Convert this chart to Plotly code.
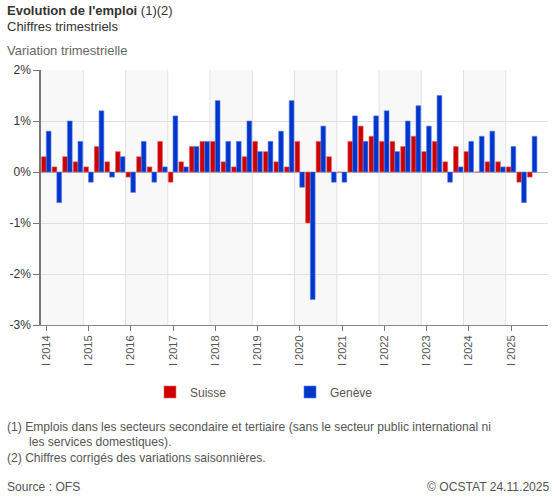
import plotly.graph_objects as go

# --- data (variation trimestrielle, en %) ---
years = list(range(2014, 2026))
quarters = ["I", "II", "III", "IV"]
categories = [f"{q} {y}" for y in years for q in quarters]

suisse = [0.3, 0.1, 0.3, 0.2,
          0.1, 0.5, 0.2, 0.4,
          -0.1, 0.3, 0.1, 0.6,
          -0.2, 0.2, 0.5, 0.6,
          0.6, 0.2, 0.1, 0.3,
          0.6, 0.4, 0.2, 0.1,
          0.6, -1.0, 0.6, 0.3,
          0.0, 0.6, 0.9, 0.7,
          0.6, 0.6, 0.5, 0.7,
          0.4, 0.6, 0.2, 0.5,
          0.4, 0.0, 0.2, 0.2,
          0.1, -0.2, -0.1, None]

geneve = [0.8, -0.6, 1.0, 0.6,
          -0.2, 1.2, -0.1, 0.3,
          -0.4, 0.6, -0.2, 0.1,
          1.1, 0.1, 0.5, 0.6,
          1.4, 0.6, 0.6, 1.0,
          0.4, 0.6, 0.8, 1.4,
          -0.3, -2.5, 0.9, -0.2,
          -0.2, 1.1, 0.6, 1.1,
          1.2, 0.4, 1.0, 1.3,
          0.9, 1.5, -0.2, 0.1,
          0.6, 0.7, 0.8, 0.1,
          0.5, -0.6, 0.7, None]

y_ticks = [-3, -2, -1, 0, 1, 2]
y_labels = ["-3%", "-2%", "-1%", "0%", "1%", "2%"]

W, H = 557, 498
L, R, T, B = 41, 9, 70, 173
PW, PH = W - L - R, H - T - B


def px(x):
    return (x - L) / PW


def py(y):
    return (H - B - y) / PH


fig = go.Figure()
fig.add_trace(go.Bar(x=categories, y=suisse, name="Suisse",
                     marker=dict(color="#cc0000", line=dict(color="#e86a6a", width=0.6))))
fig.add_trace(go.Bar(x=categories, y=geneve, name="Genève",
                     marker=dict(color="#0035cc", line=dict(color="#5580ee", width=0.6))))

# alternate shading per year + year separators
shapes = []
for i, y in enumerate(years):
    x0 = i * 4 - 0.5
    if y % 2 == 0:
        shapes.append(dict(type="rect", xref="x", yref="paper", x0=x0, x1=x0 + 4, y0=0, y1=1,
                           fillcolor="#f8f8f8", line=dict(width=0), layer="below"))
    if i > 0:
        shapes.append(dict(type="line", xref="x", yref="paper", x0=x0, x1=x0, y0=0, y1=1,
                           line=dict(color="#e2e2e2", width=1), layer="below"))

txt = "#333333"
grey = "#555555"
annotations = [
    dict(x=px(5), y=py(11), text="<b>Evolution de l'emploi</b> (1)(2)", font=dict(size=13, color=txt)),
    dict(x=px(5), y=py(27), text="Chiffres trimestriels", font=dict(size=13, color=txt)),
    dict(x=px(5), y=py(50), text="Variation trimestrielle", font=dict(size=13, color="#666666")),
    dict(x=px(5), y=py(427), text="(1) Emplois dans les secteurs secondaire et tertiaire (sans le secteur public international ni",
         font=dict(size=12.1, color=grey)),
    dict(x=px(27), y=py(442), text="les services domestiques).", font=dict(size=12.1, color=grey)),
    dict(x=px(5), y=py(458), text="(2) Chiffres corrigés des variations saisonnières.", font=dict(size=12.1, color=grey)),
    dict(x=px(5), y=py(487), text="Source : OFS", font=dict(size=12.1, color=grey)),
]
for a in annotations:
    a.update(xref="paper", yref="paper", xanchor="left", yanchor="middle", showarrow=False)
annotations.append(dict(x=px(552), y=py(487), xref="paper", yref="paper", xanchor="right", yanchor="middle",
                        showarrow=False, text="© OCSTAT 24.11.2025", font=dict(size=12.1, color=grey)))

fig.update_layout(
    width=W, height=H,
    margin=dict(l=L, r=R, t=T, b=B, pad=0),
    paper_bgcolor="white", plot_bgcolor="white",
    font=dict(family="Liberation Sans, Arial, sans-serif", color=txt),
    barmode="group", bargap=0.1, bargroupgap=0,
    shapes=shapes, annotations=annotations,
    legend=dict(orientation="h", x=px(150), y=py(392), xanchor="left", yanchor="middle",
                entrywidth=95, entrywidthmode="pixels", font=dict(size=12, color=grey),
                traceorder="normal"),
)
fig.update_xaxes(
    type="category", categoryorder="array", categoryarray=categories,
    tickmode="array", tickvals=[f"I {y}" for y in years], ticktext=[f"I {y}" for y in years],
    tickangle=-90, tickfont=dict(size=11, color=grey),
    ticks="outside", ticklen=5, tickcolor="#777777",
    showline=True, linecolor="#888888", linewidth=1,
    showgrid=False, fixedrange=True,
)
fig.update_yaxes(
    range=[-3, 2], tickvals=y_ticks, ticktext=y_labels,
    tickfont=dict(size=12, color=txt),
    ticks="outside", ticklen=6, tickcolor="#777777",
    showline=True, linecolor="#777777", linewidth=1.5,
    showgrid=True, gridcolor="#e0e0e0",
    zeroline=True, zerolinecolor="#b0b0b0", zerolinewidth=1,
)

# page has a default body margin; drop it so the figure sits at the window corner
fig.write_html("out.html", config={"displayModeBar": False},
               post_script="document.body.style.margin='0';")
